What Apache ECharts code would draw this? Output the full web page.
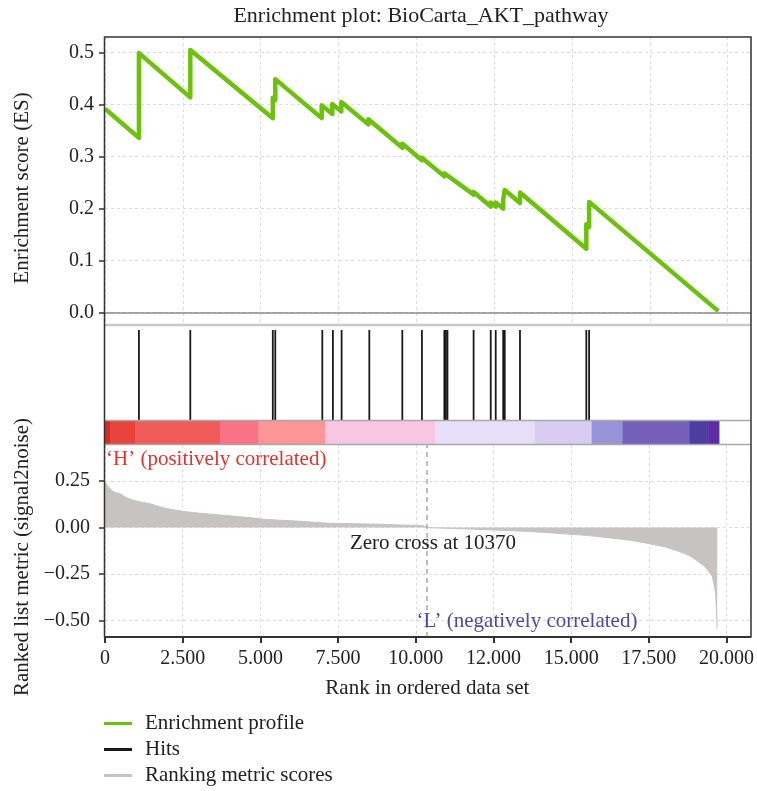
<!DOCTYPE html>
<html>
<head>
<meta charset="utf-8">
<script src="https://cdn.jsdelivr.net/npm/echarts@6/dist/echarts.min.js"></script>
<style>
  html, body { margin: 0; padding: 0; background: #fff; }
  #chart { width: 757px; height: 791px; }
</style>
</head>
<body>
<div id="chart"></div>
<script>
const FONT = '"Liberation Serif", "Times New Roman", serif';

// running enrichment score, read at every hit (value just before and just after the jump)
const esRank = [0, 1090, 1090, 2740, 2740, 5390, 5390, 5470, 5470, 6960, 6960, 7300, 7300,
  7590, 7590, 8460, 8460, 9550, 9550, 10180, 10180, 10900, 10900, 10950, 10950, 11840, 11840,
  12390, 12390, 12550, 12550, 12790, 12790, 12840, 12840, 13330, 13330, 15460, 15460,
  15550, 15550, 19700];
const esScore = [0.392, 0.336, 0.499, 0.414, 0.505, 0.374, 0.413, 0.409, 0.449, 0.374, 0.399,
  0.382, 0.401, 0.387, 0.405, 0.362, 0.372, 0.317, 0.325, 0.293, 0.298, 0.262, 0.268, 0.266,
  0.271, 0.227, 0.232, 0.204, 0.212, 0.204, 0.212, 0.200, 0.218, 0.216, 0.236, 0.211, 0.231,
  0.123, 0.170, 0.165, 0.213, 0.003];

// positions of the gene set members in the ranked list
const hitRanks = [1090, 2740, 5390, 5470, 6980, 7320, 7600, 8490, 9550, 10180, 10900, 10950,
  11000, 11840, 12390, 12550, 12790, 12840, 13330, 15460, 15550];

// ranked list metric (signal2noise)
const metricRank = [0, 60, 160, 300, 480, 700, 910, 1200, 1445, 1700, 1980, 2300, 2620, 3000,
  3470, 3900, 4340, 4800, 5190, 5700, 6150, 6700, 7220, 8000, 8830, 9500, 10220, 10370, 11000,
  11800, 12360, 13000, 13650, 14500, 15250, 15800, 16320, 16900, 17400, 18000, 18470, 18800,
  19000, 19300, 19540, 19650, 19700];
const metricValue = [0.245, 0.23, 0.209, 0.19, 0.183, 0.16, 0.147, 0.136, 0.129, 0.115, 0.103,
  0.093, 0.085, 0.078, 0.071, 0.065, 0.059, 0.051, 0.044, 0.039, 0.035, 0.029, 0.023, 0.021,
  0.018, 0.014, 0.011, 0, -0.004, -0.008, -0.012, -0.016, -0.021, -0.03, -0.039, -0.047,
  -0.057, -0.068, -0.083, -0.103, -0.128, -0.15, -0.172, -0.21, -0.261, -0.349, -0.544];

// heat bar under the hits
const colorBarEdges = [0, 160, 964, 3694, 4924, 7066, 10599, 13811, 15632, 16628, 18780, 19377, 19720];
const colorBarColors = ['#d42c24', '#e8443b', '#f05c5a', '#f87386', '#fb9596', '#f8c6e0',
  '#e5e0f8', '#d8cdf0', '#9a92d8', '#7460bb', '#4c3e9f', '#5e2ca2'];

const xTickLabels = ['0', '2.500', '5.000', '7.500', '10.000', '12.000', '15.000', '17.500', '20.000'];
const esTicks = [0, 0.1, 0.2, 0.3, 0.4, 0.5];
const metricTicks = [-0.5, -0.25, 0, 0.25];
const zeroCross = 10370;

const X_MAX = 20750;
const X_STEP = 2500;
const GREEN = '#6cc20a';
const GREY = '#c8c3c3';

const chart = echarts.init(document.getElementById('chart'));

const gridLine = { show: true, lineStyle: { color: '#dcdcdc', type: [3, 3], width: 1 } };
const tickFont = { fontFamily: FONT, fontSize: 20, color: '#222' };

function xAxisFor(gridIndex, extra) {
  return Object.assign({
    type: 'value', gridIndex, min: 0, max: X_MAX, interval: X_STEP,
    axisLine: { show: false, onZero: false }, axisTick: { show: false }, axisLabel: { show: false },
    splitLine: { show: false },
  }, extra);
}

function label(text, x, y, color, align, rotate) {
  return {
    type: 'text', x, y, z: 100, rotation: rotate ? Math.PI / 2 : 0,
    style: { text, fontFamily: FONT, fontSize: 21, fill: color, align, verticalAlign: 'middle' },
  };
}

const option = {
  animation: false,
  backgroundColor: '#fff',
  grid: [
    { left: 105, right: 6, top: 37, height: 288 },
    { left: 105, right: 6, top: 325, height: 95 },
    { left: 105, right: 6, top: 420, height: 25 },
    { left: 105, right: 6, top: 445, height: 192 },
  ],
  xAxis: [
    xAxisFor(0, { splitLine: gridLine }),
    xAxisFor(1),
    xAxisFor(2),
    xAxisFor(3, {
      splitLine: gridLine,
      axisLine: { show: true, onZero: false, lineStyle: { color: '#333', width: 2 } },
      axisTick: { show: true, length: 6, lineStyle: { color: '#333', width: 2 } },
      axisLabel: {
        show: true, margin: 12, showMaxLabel: false, ...tickFont,
        formatter: (v) => {
          const i = v / X_STEP;
          return Number.isInteger(i) && xTickLabels[i] !== undefined ? xTickLabels[i] : '';
        },
      },
      name: 'Rank in ordered data set',
      nameLocation: 'middle',
      nameGap: 41,
      nameTextStyle: { fontFamily: FONT, fontSize: 21, color: '#222', verticalAlign: 'top' },
    }),
  ],
  yAxis: [
    {
      type: 'value', gridIndex: 0, min: -0.0237, max: 0.530,
      axisLine: { show: false },
      axisTick: { show: true, length: 6, customValues: esTicks, lineStyle: { color: '#333', width: 1.5 } },
      axisLabel: { margin: 11, customValues: esTicks, formatter: (v) => v.toFixed(1), ...tickFont },
      splitLine: Object.assign({ customValues: esTicks }, gridLine),
    },
    { type: 'value', gridIndex: 1, min: 0, max: 1, show: false },
    { type: 'value', gridIndex: 2, min: 0, max: 1, show: false },
    {
      type: 'value', gridIndex: 3, min: -0.589, max: 0.4446,
      axisLine: { show: false },
      axisTick: { show: true, length: 6, customValues: metricTicks, lineStyle: { color: '#333', width: 1.5 } },
      axisLabel: {
        margin: 15, customValues: metricTicks, ...tickFont,
        formatter: (v) => (v < 0 ? '\u2212' + Math.abs(v).toFixed(2) : v.toFixed(2)),
      },
      splitLine: Object.assign({ customValues: metricTicks }, gridLine),
    },
  ],
  legend: {
    orient: 'vertical',
    left: 104,
    top: 713,
    height: 120,
    padding: 0,
    icon: 'rect',
    itemWidth: 28,
    itemHeight: 3,
    itemGap: 5,
    textStyle: { fontFamily: FONT, fontSize: 21, lineHeight: 21, color: '#222', padding: [0, 0, 0, 8] },
    data: ['Enrichment profile', 'Hits', 'Ranking metric scores'],
  },
  series: [
    {
      name: 'Enrichment profile',
      type: 'line',
      xAxisIndex: 0,
      yAxisIndex: 0,
      data: esRank.map((r, i) => [r, esScore[i]]),
      showSymbol: false,
      symbol: 'none',
      z: 5,
      itemStyle: { color: GREEN },
      lineStyle: { color: GREEN, width: 4.5, join: 'round' },
      markLine: {
        silent: true, symbol: 'none', label: { show: false },
        lineStyle: { color: '#8a8a8a', type: 'solid', width: 1.5 },
        data: [{ yAxis: 0 }],
      },
    },
    {
      name: 'Hits',
      type: 'custom',
      xAxisIndex: 1,
      yAxisIndex: 1,
      itemStyle: { color: '#1a1a1a' },
      encode: { x: 0, y: 1 },
      data: hitRanks.map((r) => [r, 0]),
      renderItem: (params, api) => {
        const top = api.coord([api.value(0), 0.947]);
        const bottom = api.coord([api.value(0), 0]);
        return {
          type: 'line',
          shape: { x1: top[0], y1: top[1], x2: bottom[0], y2: bottom[1] },
          style: { stroke: '#1a1a1a', lineWidth: 1.8 },
        };
      },
    },
    {
      name: 'heat',
      type: 'custom',
      xAxisIndex: 2,
      yAxisIndex: 2,
      encode: { x: [0, 1] },
      data: colorBarColors.map((c, i) => [colorBarEdges[i], colorBarEdges[i + 1], i]),
      renderItem: (params, api) => {
        const p0 = api.coord([api.value(0), 1]);
        const p1 = api.coord([api.value(1), 0]);
        return {
          type: 'rect',
          shape: { x: p0[0], y: p0[1], width: p1[0] - p0[0] + 0.5, height: p1[1] - p0[1] },
          style: { fill: colorBarColors[api.value(2)] },
        };
      },
    },
    {
      name: 'Ranking metric scores',
      type: 'line',
      xAxisIndex: 3,
      yAxisIndex: 3,
      data: metricRank.map((r, i) => [r, metricValue[i]]),
      showSymbol: false,
      symbol: 'none',
      itemStyle: { color: GREY },
      lineStyle: { color: GREY, width: 1 },
      areaStyle: { color: GREY, opacity: 1 },
      markLine: {
        silent: true, symbol: 'none', label: { show: false },
        lineStyle: { color: '#a8a8a8', type: [5, 4], width: 1.5 },
        data: [{ xAxis: zeroCross }],
      },
    },
  ],
  graphic: [
    {
      type: 'text', x: 421, y: 16, z: 100,
      style: { text: 'Enrichment plot: BioCarta_AKT_pathway', fontFamily: FONT, fontSize: 22,
        fill: '#222', align: 'center', verticalAlign: 'middle' },
    },
    label('Enrichment score (ES)', 22, 188, '#222', 'center', true),
    label('Ranked list metric (signal2noise)', 22, 557, '#222', 'center', true),
    label('\u2018H\u2019 (positively correlated)', 106, 459, '#e0342c', 'left'),
    label('Zero cross at 10370', 433, 543, '#222', 'center'),
    label('\u2018L\u2019 (negatively correlated)', 527, 621, '#4a4aae', 'center'),
    // panel separators
    { type: 'line', z: 90, shape: { x1: 105, y1: 325, x2: 751, y2: 325 },
      style: { stroke: '#c8c8c8', lineWidth: 2.5 } },
    { type: 'line', z: 90, shape: { x1: 105, y1: 420.5, x2: 751, y2: 420.5 },
      style: { stroke: '#a8a8a8', lineWidth: 1.5 } },
    { type: 'line', z: 90, shape: { x1: 105, y1: 444.5, x2: 751, y2: 444.5 },
      style: { stroke: '#a8a8a8', lineWidth: 1.5 } },
    // outer frame
    { type: 'rect', z: 100, shape: { x: 104.5, y: 37, width: 646.5, height: 600 },
      style: { fill: 'none', stroke: '#333', lineWidth: 1.5 } },
  ],
};

chart.setOption(option);
</script>
</body>
</html>
